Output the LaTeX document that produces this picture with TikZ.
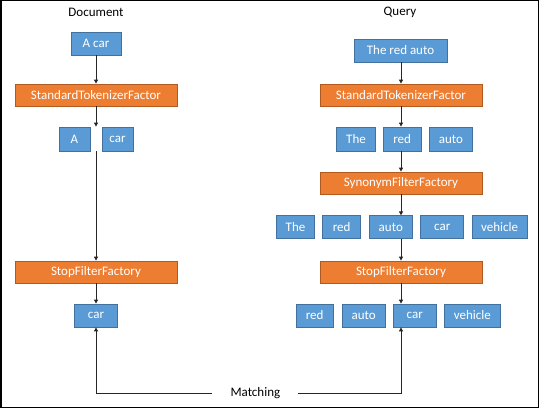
\documentclass[tikz,border=0pt]{standalone}
\usepackage{fontspec}
\setmainfont{Carlito}
\usetikzlibrary{arrows.meta}
\definecolor{bfill}{HTML}{5B9BD5}
\definecolor{bline}{HTML}{41719C}
\definecolor{ofill}{HTML}{ED7D31}
\definecolor{oline}{HTML}{AE5A21}
\definecolor{conn}{HTML}{262626}
\tikzset{
  tok/.style={draw=bline, fill=bfill, text=white, line width=0.8pt, inner sep=0pt,
    font=\fontsize{13}{15}\selectfont, minimum height=23},
  filt/.style={draw=oline, fill=ofill, text=white, line width=0.8pt, inner sep=0pt,
    font=\fontsize{13}{15}\selectfont, minimum width=162, minimum height=22},
  ttl/.style={font=\fontsize{13}{15}\selectfont, text=black, inner sep=0pt},
  conn/.style={draw=conn, line width=0.9pt},
  arr/.style={conn, -{Triangle[length=4pt,width=4pt]}}
}
\begin{document}
\begin{tikzpicture}[x=1pt,y=-1pt]
\useasboundingbox (0,0) rectangle (540,409);
\draw[line width=1.5pt, black] (0.75,0.75) rectangle (538.5,407.5);

% Document column
\node[ttl] (tdoc) at (96,12) {Document};
\node[tok, minimum width=50] (din) at (96,43.5) {A car};
\node[filt] (stf1) at (96,95) {StandardTokenizerFactor};
\node[tok, minimum width=31, minimum height=24] (dA) at (74.5,139) {A};
\node[tok, minimum width=31, minimum height=24] (dcar1) at (117.5,139) {car};
\node[filt] (sf1) at (96,272) {StopFilterFactory};
\node[tok, minimum width=42.7] (dcar) at (96,315.5) {car};

% Query column
\node[ttl] (tq) at (400,12) {Query};
\node[tok, minimum width=93] (qin) at (400.5,50.5) {The red auto};
\node[filt] (stf2) at (401,95) {StandardTokenizerFactor};
\node[tok, minimum width=38.3, minimum height=24] (q1the) at (356,139) {The};
\node[tok, minimum width=37.7, minimum height=24] (q1red) at (402.2,139) {red};
\node[tok, minimum width=43.4, minimum height=24] (q1auto) at (451,139) {auto};
\node[filt] (syn) at (401,183) {SynonymFilterFactory};
\node[tok, minimum width=37.6] (q2the) at (295.5,227.3) {The};
\node[tok, minimum width=38] (q2red) at (341.7,227.3) {red};
\node[tok, minimum width=43] (q2auto) at (390.8,227.3) {auto};
\node[tok, minimum width=43] (q2car) at (442.2,227.3) {car};
\node[tok, minimum width=55] (q2veh) at (499.5,227.3) {vehicle};
\node[filt] (sf2) at (401,272) {StopFilterFactory};
\node[tok, minimum width=37.3] (q3red) at (314.7,315.5) {red};
\node[tok, minimum width=43.3] (q3auto) at (363.7,315.5) {auto};
\node[tok, minimum width=43] (q3car) at (414.8,315.5) {car};
\node[tok, minimum width=55.3] (q3veh) at (472.3,315.5) {vehicle};

\node[ttl, inner xsep=18pt] (match) at (255.4,393) {Matching};

% Document connectors
\draw[arr] (din.south) -- (stf1.north);
\draw[arr] (stf1.south) -- (stf1.south |- dA.north);
\draw[arr] (stf1.south |- dA.south) -- (sf1.north);
\draw[arr] (sf1.south) -- (dcar.north);

% Query connectors
\draw[arr] (qin.south -| stf2.north) -- (stf2.north);
\draw[arr] (stf2.south) -- (stf2.south |- q1red.north);
\draw[arr] (syn.north |- q1red.south) -- (syn.north);
\draw[arr] (syn.south) -- (syn.south |- q2auto.north);
\draw[arr] (sf2.north |- q2auto.south) -- (sf2.north);
\draw[arr] (sf2.south) -- (sf2.south |- q3car.north);

% Matching
\draw[arr] (match.west) -| (dcar.south);
\draw[arr] (match.east) -| (sf2.south |- q3car.south);
\end{tikzpicture}
\end{document}
